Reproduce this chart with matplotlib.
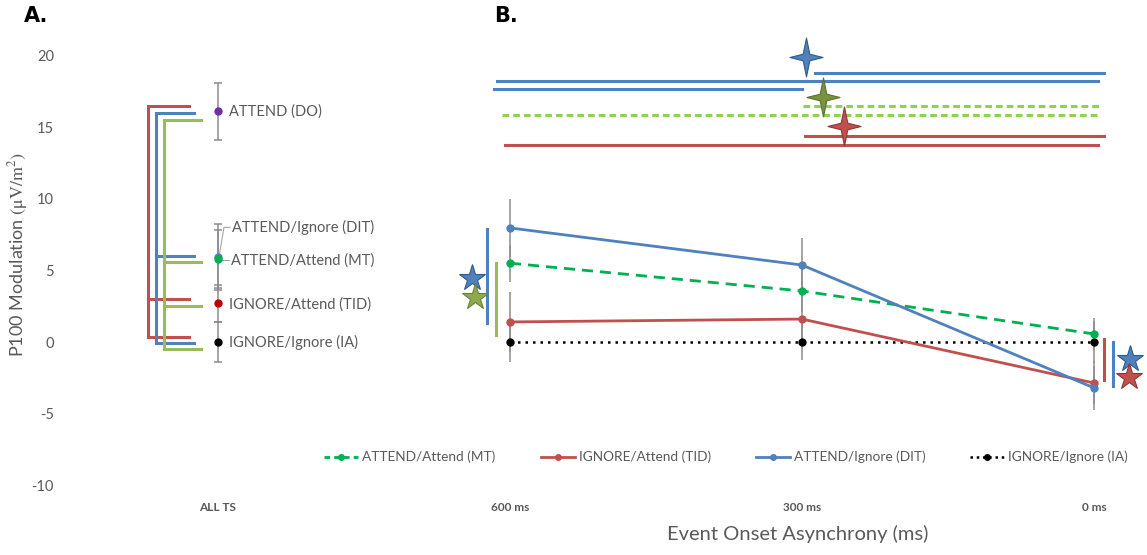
import numpy as np
import matplotlib
matplotlib.use("Agg")
import matplotlib.pyplot as plt
from matplotlib.path import Path
from matplotlib.lines import Line2D

# ---------------- data ----------------
categories = ['ALL TS', '600 ms', '300 ms', '0 ms']

# Panel A (all task switches)
a_labels = ['ATTEND (DO)', 'ATTEND/Ignore (DIT)', 'ATTEND/Attend (MT)',
            'IGNORE/Attend (TID)', 'IGNORE/Ignore (IA)']
a_means = [16.1, 5.9, 5.8, 2.7, 0.0]
a_err = [2.0, 2.3, 2.0, 1.3, 1.4]
a_colors = ['#7030A0', '#4F81BD', '#00B050', '#C00000', '#000000']
a_label_y = [16.1, 8.0, 5.7, 2.6, 0.0]

# Panel B (per event onset asynchrony)
soa = ['600 ms', '300 ms', '0 ms']
mt = [5.5, 3.56, 0.56]
mt_err = [1.3, 1.5, 1.1]
tid = [1.4, 1.6, -2.86]
tid_err = [2.1, 1.7, 1.5]
dit = [7.96, 5.37, -3.2]
dit_err = [2.0, 1.9, 1.55]
ia = [0.0, 0.0, 0.0]
ia_err = [1.4, 1.26, 1.5]

# significance brackets in panel A: (top, [middle ticks], bottom)
br_red = (16.5, [3.0], 0.35)
br_blue = (16.0, [6.0], -0.05)
br_green = (15.5, [5.6, 2.5], -0.5)

# significance lines above panel B: (x_start, x_end, level)
sig_blue = [(2.045, 3.034, 18.77), (0.955, 3.014, 18.2), (0.945, 2.0, 17.65)]
sig_green = [(2.003, 3.024, 16.47), (0.973, 3.01, 15.84)]
sig_red = [(2.01, 3.034, 14.37), (0.983, 3.014, 13.75)]

# ---------------- style ----------------
BLUE = '#4F81BD'
RED = '#C0504D'
GREEN = '#9BBB59'
LGREEN = '#92D050'
DGREEN = '#00B050'
GRAY = '#8C8C8C'
TXT = '#595959'

plt.rcParams['font.family'] = ['Lato', 'DejaVu Sans']
plt.rcParams['mathtext.fontset'] = 'stix'
plt.rcParams['axes.unicode_minus'] = False

W, H = 1147, 555
fig = plt.figure(figsize=(W / 100, H / 100), dpi=100)

# axes geometry in pixels
L, R, T, B = 65, 1147, 0, 495
ax = fig.add_axes([L / W, 1 - B / H, (R - L) / W, (B - T) / H])
# pixel -> data mapping: x category i at 218 + 292 i ; y value v at 342 - 14.33 v
ax.set_xlim((L - 218) / 292, (R - 218) / 292)
ax.set_ylim((342 - B) / 14.33, (342 - T) / 14.33)
for s in ax.spines.values():
    s.set_visible(False)
ax.set_yticks([-10, -5, 0, 5, 10, 15, 20])
ax.set_xticks(range(len(categories)))
ax.set_xticklabels(categories, fontweight='bold', fontsize=8.5, color=TXT)
ax.tick_params(axis='y', length=0, pad=8, labelsize=10.5, labelcolor=TXT)
ax.tick_params(axis='x', length=0, pad=5)
ax.set_ylabel(r'P100 Modulation $(\mathrm{\mu V/m^2})$', fontsize=13, color=TXT)
ax.yaxis.set_label_coords((30 - L) / (R - L), (B - 255) / (B - T))
ax.set_xlabel('Event Onset Asynchrony (ms)', fontsize=14.5, color=TXT)
ax.xaxis.set_label_coords((798 - L) / (R - L), (B - 525) / (B - T))

def px2x(p):
    return (p - 218) / 292

# ---- Panel A ----
xa = [0] * len(a_means)
ax.errorbar(xa, a_means, yerr=a_err, fmt='none', ecolor=GRAY, elinewidth=1.1,
            capsize=3, capthick=1.1, zorder=2)
for m, c in zip(a_means, a_colors):
    ax.plot(0, m, 'o', color=c, markersize=5, zorder=3)
# labels
lx = px2x(229)
ax.text(lx, a_label_y[0], a_labels[0], va='center', ha='left', fontsize=10.5, color=TXT)
ax.text(px2x(232), a_label_y[1], a_labels[1], va='center', ha='left', fontsize=10.5, color=TXT)
ax.text(px2x(231), a_label_y[2], a_labels[2], va='center', ha='left', fontsize=10.5, color=TXT)
ax.text(lx, a_label_y[3], a_labels[3], va='center', ha='left', fontsize=10.5, color=TXT)
ax.text(lx, a_label_y[4], a_labels[4], va='center', ha='left', fontsize=10.5, color=TXT)
# leader lines
ax.plot([0.003, px2x(224), px2x(230)], [a_means[1], a_label_y[1], a_label_y[1]],
        color='#A6A6A6', lw=0.8, zorder=2)
ax.plot([0.006, px2x(229)], [a_label_y[2], a_label_y[2]], color='#A6A6A6', lw=0.8, zorder=2)

def bracket(br, xv, xe, color):
    top, mids, bot = br
    ax.plot([xe, xv, xv, xe], [top, top, bot, bot], color=color, lw=2.2,
            solid_joinstyle='miter', zorder=2)
    for m in mids:
        ax.plot([xv, xe], [m, m], color=color, lw=2.2, zorder=2)

bracket(br_red, px2x(148), px2x(189), RED)
bracket(br_blue, px2x(156), px2x(194), BLUE)
bracket(br_green, px2x(164), px2x(201), GREEN)

# ---- Panel B ----
xb = np.arange(1, 4)
for vals, errs in [(dit, dit_err), (mt, mt_err), (tid, tid_err), (ia, ia_err)]:
    ax.errorbar(xb, vals, yerr=errs, fmt='none', ecolor=GRAY, elinewidth=1.1,
                capsize=0, zorder=1)
ax.plot(xb, ia, linestyle=(0, (1, 2)), color='black', lw=1.8, marker='o',
        markersize=5, zorder=4, label='IGNORE/Ignore (IA)')
ax.plot(xb, tid, '-', color=RED, lw=2, marker='o', markersize=5, zorder=4,
        label='IGNORE/Attend (TID)')
ax.plot(xb, mt, linestyle=(0, (4, 2.5)), color=DGREEN, lw=2, marker='o',
        markersize=5, zorder=4, label='ATTEND/Attend (MT)')
ax.plot(xb, dit, '-', color=BLUE, lw=2, marker='o', markersize=5, zorder=5,
        label='ATTEND/Ignore (DIT)')

# significance lines on top
for x0, x1, y in sig_blue:
    ax.plot([x0, x1], [y, y], color=BLUE, lw=2.2, zorder=2)
for x0, x1, y in sig_green:
    ax.plot([x0, x1], [y, y], color=LGREEN, lw=2.2, linestyle=(0, (2.2, 1.3)), zorder=2)
for x0, x1, y in sig_red:
    ax.plot([x0, x1], [y, y], color=RED, lw=2.2, zorder=2)

# 4-point star marker
w, h, inner = 0.85, 1.0, 0.17
star4 = Path([(0, h), (inner, inner), (w, 0), (inner, -inner), (0, -h),
              (-inner, -inner), (-w, 0), (-inner, inner), (0, h)],
             [Path.MOVETO] + [Path.LINETO] * 7 + [Path.CLOSEPOLY])
for (x, y), fc, ec in [((px2x(806), 19.89), BLUE, '#2F5B8C'),
                       ((px2x(823), 17.1), '#77933C', '#5A7030'),
                       ((px2x(844), 15.07), RED, '#8C3836')]:
    ax.plot(x, y, marker=star4, markersize=28, color=fc, markeredgecolor=ec,
            markeredgewidth=0.8, zorder=6)

# vertical significance bars beside panel B
ax.plot([px2x(487)] * 2, [7.9, 1.3], color=BLUE, lw=2.2, zorder=2)
ax.plot([px2x(496)] * 2, [5.5, 0.5], color=GREEN, lw=2.2, zorder=2)
ax.plot([px2x(1104)] * 2, [0.2, -2.65], color=RED, lw=2.2, zorder=2)
ax.plot([px2x(1113)] * 2, [0.0, -3.1], color=BLUE, lw=2.2, zorder=2)

for (x, y), fc, ec in [((px2x(472), 4.47), BLUE, '#2F5B8C'),
                       ((px2x(475), 3.14), '#8DAA4E', '#6A8238'),
                       ((px2x(1130), -1.19), BLUE, '#2F5B8C'),
                       ((px2x(1129), -2.44), RED, '#8C3836')]:
    ax.plot(x, y, marker='*', markersize=20, color=fc, markeredgecolor=ec,
            markeredgewidth=0.8, zorder=6)

# legend
handles = [
    Line2D([], [], linestyle=(0, (2, 1.5)), color=DGREEN, lw=2, marker='o', markersize=4),
    Line2D([], [], linestyle='-', color=RED, lw=2, marker='o', markersize=4),
    Line2D([], [], linestyle='-', color=BLUE, lw=2, marker='o', markersize=4),
    Line2D([], [], linestyle=(0, (1, 1.5)), color='black', lw=1.8, marker='o', markersize=4),
]
leg_labels = ['ATTEND/Attend (MT)', 'IGNORE/Attend (TID)', 'ATTEND/Ignore (DIT)',
              'IGNORE/Ignore (IA)']
leg = fig.legend(handles, leg_labels, loc='center left', ncol=4,
                 bbox_to_anchor=(312 / W, 1 - 457 / H), frameon=False,
                 fontsize=9.8, handlelength=2.5, handletextpad=0.3,
                 columnspacing=3.3, labelcolor=TXT)

# panel labels
fig.text(24 / W, 1 - 16 / H, 'A.', fontsize=15, fontweight='heavy',
         family='DejaVu Sans', va='center', ha='left', color='black')
fig.text(494 / W, 1 - 16 / H, 'B.', fontsize=15, fontweight='heavy',
         family='DejaVu Sans', va='center', ha='left', color='black')

fig.savefig('out.png', dpi=100)
